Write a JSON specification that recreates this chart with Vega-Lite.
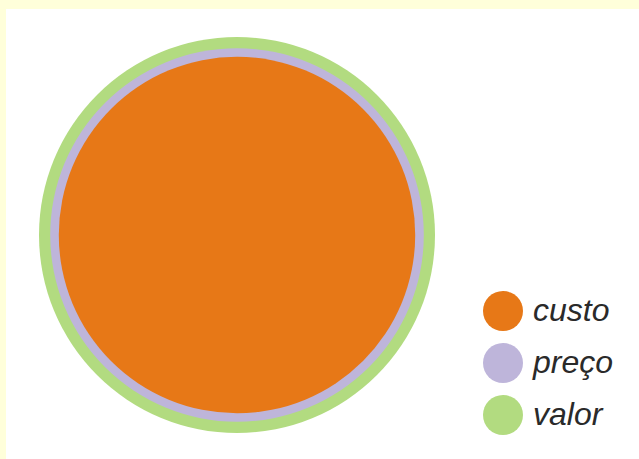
{
  "$schema": "https://vega.github.io/schema/vega-lite/v6.json",
  "autosize": {"type": "none"},
  "padding": {"left": 6, "top": 9, "right": 0, "bottom": 0},
  "width": 633,
  "height": 450,
  "background": "#FFFFDA",
  "view": {"fill": "white", "stroke": null},
  "data": {
    "values": [
      {"item": "valor", "valor": 100},
      {"item": "preço", "valor": 89},
      {"item": "custo", "valor": 81}
    ]
  },
  "mark": {"type": "point", "shape": "circle", "filled": true, "opacity": 1, "strokeWidth": 0},
  "encoding": {
    "x": {"datum": 0, "type": "quantitative", "scale": {"domain": [-231, 402]}, "axis": null},
    "y": {"datum": 0, "type": "quantitative", "scale": {"domain": [-224, 226]}, "axis": null},
    "size": {"field": "valor", "type": "quantitative", "scale": {"type": "linear", "domain": [0, 100], "range": [0, 156816]}, "legend": null},
    "order": {"field": "valor", "sort": "descending"},
    "color": {
      "field": "item",
      "type": "nominal",
      "scale": {"domain": ["custo", "preço", "valor"], "range": ["#E77817", "#BEB5DA", "#B2DB80"]},
      "legend": {
        "title": null,
        "orient": "none",
        "legendX": 477,
        "legendY": 282,
        "symbolType": "circle",
        "symbolSize": 1600,
        "symbolStrokeWidth": 0,
        "symbolOpacity": 1,
        "labelFont": "Liberation Sans",
        "labelFontStyle": "italic",
        "labelFontSize": 32,
        "labelColor": "#2a2a2a",
        "labelOffset": 10,
        "rowPadding": 12,
        "padding": 0
      }
    }
  }
}
